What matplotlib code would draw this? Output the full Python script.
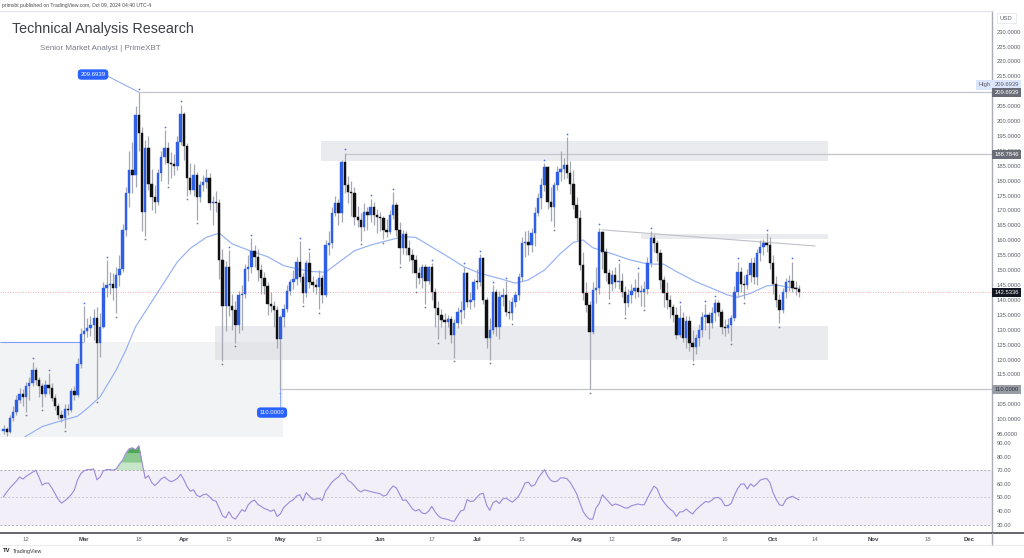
import numpy as np
import pandas as pd
import matplotlib
matplotlib.use('Agg')
import matplotlib.pyplot as plt
from matplotlib import transforms
from matplotlib.patches import Rectangle
from matplotlib.lines import Line2D

plt.rcParams['font.family'] = ['Liberation Sans', 'DejaVu Sans']

# daily candles, first bar = 2024-02-05, open of a bar = previous close
start_date = '2024-02-05'
first_open = 96.0

close = [
    # Feb
    96.8, 95.8, 100.5, 102.5, 106.5, 108.5, 107.5, 111.0, 112.0, 116.5, 113.0, 111.0, 108.5,
    111.5, 110.5, 107.0, 104.5, 101.5, 100.5, 103.5, 103.0, 109.5, 108.0, 118.5, 128.5,
    # Mar
    129.5, 130.5, 131.5, 134.0, 125.5, 131.0, 144.0, 145.0, 145.5, 144.0, 148.5, 150.5, 163.5,
    176.0, 183.5, 182.0, 202.0, 196.0, 169.5, 191.0, 179.0, 174.5, 173.0, 182.5, 188.0, 191.0,
    186.0, 185.5, 185.0, 193.0, 202.5,
    # Apr
    191.5, 181.0, 177.0, 182.0, 174.5, 178.5, 179.5, 181.0, 172.5, 173.0, 172.5, 153.5, 138.0,
    151.0, 138.0, 136.5, 131.5, 141.5, 142.0, 150.5, 151.0, 156.5, 154.5, 150.0, 147.5, 144.5,
    138.5, 138.0, 136.5, 127.0,
    # May
    134.4, 137.0, 143.0, 146.0, 147.0, 152.8, 147.8, 142.2, 152.3, 146.1, 145.0, 144.4, 147.5,
    141.6, 158.4, 159.0, 169.0, 172.4, 169.0, 186.4, 178.5, 176.3, 175.7, 167.9, 166.8, 164.6,
    169.6, 168.5, 171.0, 168.5, 167.9,
    # Jun
    167.4, 163.4, 162.9, 168.5, 171.8, 163.4, 157.3, 162.0, 157.3, 155.0, 153.4, 148.9, 147.2,
    151.1, 146.5, 151.1, 142.8, 137.2, 134.9, 133.2, 132.7, 133.5, 128.2, 132.1, 136.0, 136.5,
    148.9, 139.4, 140.0, 146.1,
    # Jul
    146.0, 154.0, 140.0, 127.1, 129.9, 142.7, 131.0, 141.0, 141.5, 136.0, 135.5, 139.4, 141.6,
    147.8, 159.0, 159.5, 158.4, 162.3, 169.0, 174.1, 178.5, 184.7, 173.0, 171.3, 178.5, 183.0,
    184.0, 185.3, 182.5, 179.0, 171.8,
    # Aug
    167.4, 151.7, 142.2, 138.3, 129.3, 143.3, 144.0, 162.9, 156.2, 149.0, 145.5, 148.5, 146.1,
    146.5, 142.8, 138.8, 141.5, 143.0, 144.0, 142.5, 142.8, 143.5, 152.3, 160.6, 159.0, 155.6,
    146.7, 142.2, 140.0, 137.7, 134.9,
    # Sep
    128.2, 134.0, 127.1, 133.0, 125.4, 124.3, 127.1, 129.9, 134.4, 134.9, 132.1, 135.5, 138.8,
    136.0, 131.0, 130.5, 131.5, 133.8, 142.8, 149.5, 145.5, 145.0, 148.3, 152.3, 147.8, 155.6,
    157.9, 159.0, 158.4, 152.3,
    # Oct
    145.5, 140.0, 136.6, 142.8, 146.1, 146.5, 143.9, 143.5, 142.5336,
]

high = [
    98.0, 97.5, 101.5, 104.5, 108.0, 110.5, 110.0, 112.5, 114.0, 119.3, 117.5, 114.0, 112.0,
    113.0, 115.4, 112.0, 108.5, 105.5, 103.0, 105.0, 105.0, 110.5, 111.0, 120.5, 130.5,
    138.0, 134.0, 134.5, 137.0, 137.5, 135.5, 146.0, 153.4, 149.5, 149.0, 151.0, 155.0, 165.5,
    178.0, 190.0, 193.0, 205.0, 209.6939, 198.0, 193.5, 195.0, 184.0, 178.5, 184.0, 190.0, 197.0,
    193.0, 189.5, 189.0, 195.0, 205.5,
    203.0, 192.5, 186.0, 185.5, 183.0, 180.0, 182.0, 184.0, 182.5, 175.0, 176.5, 174.0, 157.0,
    153.0, 156.7, 142.0, 139.5, 143.0, 145.0, 152.0, 155.0, 160.7, 158.5, 157.0, 152.0, 149.5,
    146.0, 142.5, 139.5, 138.0,
    135.0, 138.5, 145.0, 147.0, 150.0, 154.5, 159.8, 149.0, 153.5, 156.0, 148.0, 147.0, 150.0,
    148.5, 160.0, 163.0, 171.0, 175.0, 174.0, 187.0, 189.4, 181.5, 180.0, 178.0, 171.5, 169.0,
    172.5, 171.0, 174.0, 173.0, 170.5,
    169.5, 168.0, 167.0, 170.0, 176.1, 173.0, 166.0, 163.5, 163.0, 160.0, 157.0, 155.0, 151.0,
    152.0, 152.0, 151.5, 152.3, 144.0, 139.5, 137.0, 135.5, 135.0, 134.5, 133.5, 137.5, 139.5,
    151.1, 149.5, 142.5, 147.0,
    150.5, 155.4, 154.5, 141.0, 134.0, 145.0, 143.5, 143.0, 144.0, 146.3, 140.0, 141.0, 143.0,
    149.0, 161.0, 163.0, 163.5, 164.0, 171.0, 176.0, 181.0, 185.8, 185.0, 178.0, 179.5, 185.0,
    190.0, 187.5, 194.5, 186.5, 183.5,
    174.5, 170.0, 156.0, 146.0, 139.5, 146.0, 151.0, 164.2, 163.0, 157.5, 150.5, 150.0, 151.0,
    152.3, 149.0, 144.5, 143.5, 145.5, 147.0, 149.5, 145.0, 146.5, 154.5, 163.1, 162.0, 160.0,
    157.0, 148.0, 146.0, 141.5, 138.5,
    137.5, 138.3, 136.0, 134.5, 134.5, 130.0, 128.5, 132.0, 136.0, 138.6, 136.0, 137.5, 140.3,
    140.0, 137.0, 133.5, 134.0, 135.0, 144.5, 152.8, 151.0, 148.5, 150.5, 154.0, 154.5, 157.0,
    160.0, 160.5, 162.3, 161.0,
    155.0, 148.0, 142.0, 144.0, 147.5, 148.5, 152.8, 146.5, 145.0,
]

low = [
    95.0, 94.5, 95.5, 99.5, 101.5, 105.5, 104.5, 102.5, 106.5, 111.0, 111.5, 107.5, 104.2,
    107.5, 108.5, 106.0, 103.0, 100.0, 99.0, 97.0, 101.5, 102.5, 106.5, 107.5, 117.0,
    126.0, 127.5, 128.0, 126.5, 107.0, 121.0, 130.5, 141.0, 142.0, 140.0, 135.5, 144.5, 149.5,
    161.5, 171.0, 176.0, 178.0, 190.0, 163.0, 161.4, 177.0, 170.0, 169.0, 172.0, 180.0, 185.5,
    179.0, 181.0, 182.0, 183.5, 192.0,
    187.0, 175.0, 175.5, 175.0, 166.8, 173.0, 176.5, 177.5, 170.0, 165.0, 169.5, 147.0, 119.5,
    129.5, 134.5, 130.0, 125.5, 129.0, 130.0, 140.5, 146.5, 149.0, 151.0, 146.5, 142.0, 142.0,
    135.0, 136.0, 131.0, 124.0,
    110.0, 131.0, 136.0, 141.5, 143.5, 145.0, 146.0, 139.0, 141.0, 144.0, 142.5, 142.0, 136.8,
    139.0, 141.0, 155.0, 157.5, 168.0, 165.0, 166.0, 176.0, 172.5, 168.0, 165.0, 164.5, 159.9,
    163.0, 163.5, 166.0, 165.0, 162.5,
    163.0, 160.3, 161.0, 162.0, 167.0, 161.5, 152.0, 155.5, 155.0, 153.0, 149.0, 143.9, 145.5,
    144.0, 138.6, 145.5, 140.0, 131.0, 126.8, 131.0, 127.0, 131.0, 125.5, 120.6, 130.5, 132.0,
    134.0, 137.5, 137.0, 137.5,
    143.5, 144.5, 138.5, 124.0, 120.0, 128.5, 128.0, 127.0, 138.0, 134.5, 133.5, 133.2, 137.5,
    140.0, 146.5, 154.5, 155.0, 156.0, 158.0, 168.0, 170.5, 176.5, 170.5, 166.5, 164.6, 177.0,
    180.0, 180.5, 181.0, 175.5, 170.5,
    160.0, 150.0, 140.0, 136.0, 110.0, 128.5, 139.0, 142.0, 150.5, 146.5, 140.2, 143.0, 144.0,
    143.5, 141.0, 135.1, 137.5, 139.0, 140.5, 141.0, 138.0, 137.7, 142.0, 151.0, 156.0, 153.0,
    143.5, 137.5, 137.0, 134.0, 132.5,
    127.0, 127.5, 126.0, 124.0, 123.0, 119.5, 122.0, 124.5, 127.5, 130.0, 127.0, 130.5, 133.0,
    134.5, 128.5, 128.0, 129.0, 126.2, 133.0, 141.0, 142.5, 140.2, 143.5, 146.0, 145.5, 145.0,
    153.0, 155.0, 156.0, 150.5,
    142.0, 137.5, 132.1, 135.5, 140.5, 143.0, 142.5, 141.5, 141.0,
]

# swing-high / swing-low marks (bar index)
hi_marks = [9, 14, 25, 32, 42, 50, 55, 70, 77, 92, 95, 106, 114, 121, 133, 143, 148, 152,
            156, 168, 175, 185, 191, 197, 201, 210, 218, 221, 228, 237, 245]
lo_marks = [7, 12, 19, 29, 35, 44, 51, 57, 60, 68, 72, 86, 93, 98, 111, 118, 123, 128, 131,
            135, 140, 151, 158, 171, 182, 188, 193, 199, 214, 226, 230, 241]

# moving average (bar index, value)
ma_day = [3, 7, 12, 18, 23, 26, 30, 35, 38, 41, 45, 49, 54, 58, 63, 67, 71, 76, 82, 87,
          92, 96, 100, 104, 109, 114, 120, 124, 128, 132, 138, 143, 148, 154, 159, 163, 168,
          173, 177, 180, 183, 189, 194, 199, 202, 205, 209, 215, 220, 225, 228, 232, 237,
          240, 244, 247]
ma_val = [91.5, 94.3, 97.5, 99.5, 101.0, 103.6, 107.5, 116.5, 123.2, 131.0, 137.7, 144.4,
          152.8, 157.3, 161.0, 162.4, 158.8, 156.7, 154.5, 151.5, 150.2, 149.5, 149.3, 152.5,
          156.5, 158.4, 160.1, 161.2, 161.0, 158.4, 154.5, 151.1, 148.9, 147.2, 145.6, 146.7,
          150.0, 155.6, 159.3, 160.1, 157.5, 155.5, 153.6, 152.3, 152.0, 152.0, 149.5, 146.1,
          143.9, 141.6, 140.9, 142.2, 144.7, 145.0, 144.2, 143.9]

rsi = [
    50.5, 54, 57, 59.5, 62, 65, 63.5, 65.5, 67, 68.5,
    70, 65, 59, 60.5, 60.5, 57, 52.8, 48.5, 45.8, 47.5,
    49.5, 52, 55.5, 63, 67.5, 69.5, 70.5, 70.5, 71, 63,
    65, 69.5, 70.5, 70.5, 70, 71, 74.5, 77.5, 82.5, 85.7,
    86.5, 85, 88, 76, 64, 66, 61, 58.7, 61, 63.7,
    65, 63, 61.5, 62.5, 64, 67, 63, 58, 54.5, 55.7,
    51.5, 50.5, 52, 52.5, 50.5, 48, 47.2, 42, 36.5, 35,
    39.5, 35.5, 34, 37.5, 41, 39.7, 44.6, 47, 48, 44.8,
    43.5, 41.8, 41, 39.8, 41, 36, 38, 42.5, 44.7, 47,
    48.3, 51, 52, 47.5, 53.5, 51, 48.5, 48.8, 49.3, 47.8,
    54.5, 57.8, 61.2, 63.4, 65, 68, 66.5, 62.5, 61, 58.5,
    55.5, 54, 55.5, 55, 54.3, 53.7, 53.2, 52.7, 51, 51.8,
    55.7, 58.4, 57, 52.5, 47.8, 48.2, 45, 41.5, 40, 41.2,
    38.5, 38, 39.8, 43.5, 39.5, 36.5, 34.8, 34.3, 33.8, 32.8,
    32.5, 36.5, 40, 40.9, 48.5, 47, 47.3, 50, 52.5, 53,
    44.5, 40.5, 46, 47.5, 45.5, 48.8, 49.5, 48, 46.5, 48.5,
    51, 55.5, 60.7, 61.2, 58.2, 59.3, 64, 67.3, 70.3, 65.8,
    62.5, 61.5, 62, 64.4, 64.4, 63.7, 61, 57, 52.7, 46,
    39.7, 36.2, 34, 34, 42.2, 45.5, 52, 49.3, 46.5, 44,
    45.2, 44.5, 43.5, 42.2, 42.3, 43.8, 44.5, 45.2, 44.6, 44.6,
    49.5, 54, 58.3, 56.5, 50.5, 46.8, 43.8, 41.4, 39.7, 36,
    39.3, 39.5, 41.5, 39.5, 37.8, 40.8, 43, 45, 47, 46.5,
    48, 49.8, 50, 48.3, 44, 44, 45.6, 51.5, 56.5, 59.7,
    60, 56.2, 60, 58, 60, 62.7, 63.5, 64, 61, 53.5,
    48.5, 44.5, 44, 48.4, 50, 50.8, 49.5, 48.3,
]

tick_dates = ['2024-02-12', '2024-03-01', '2024-03-18', '2024-04-01', '2024-04-15',
              '2024-05-01', '2024-05-13', '2024-06-01', '2024-06-17', '2024-07-01',
              '2024-07-15', '2024-08-01', '2024-08-12', '2024-09-01', '2024-09-16',
              '2024-10-01', '2024-10-14', '2024-11-01', '2024-11-18', '2024-12-01']
tick_labels = ['12', 'Mar', '18', 'Apr', '15', 'May', '13', 'Jun', '17', 'Jul', '15', 'Aug',
               '12', 'Sep', '16', 'Oct', '14', 'Nov', '18', 'Dec']

ath_price = 209.6939
range_top = 188.7846
range_low = 110.0
last_price = 142.5336

# ---------------------------------------------------------------
n = len(close)
days = np.arange(n)
c = np.array(close)
h = np.array(high)
l = np.array(low)
o = np.array([first_open] + close[:-1])
rsi_arr = np.array(rsi, dtype=float)
t0 = pd.Timestamp(start_date)
tick_pos = [(pd.Timestamp(d) - t0).days for d in tick_dates]

X0, X1 = -1.1, 307.0

fig = plt.figure(figsize=(10.24, 5.58), dpi=100)
fig.patch.set_facecolor('white')
ax = fig.add_axes([0, 0.2168, 0.96875, 0.7634])
rx = fig.add_axes([0, 0.0448, 0.96875, 0.172], sharex=ax)

ax.set_xlim(X0, X1)
ax.set_ylim(94.0, 236.9)
rx.set_ylim(23.85, 94.4)

# zones and drawings
zone_col = '#d1d4dc'
ax.add_patch(Rectangle((X0, 94.0), 86.8 - X0, 125.9 - 94.0, color=zone_col, alpha=0.28, lw=0, zorder=0))
ax.hlines(125.9, X0, 24.7, color='#7d9ef0', lw=0.8, zorder=1)
ax.add_patch(Rectangle((98.6, 186.6), 256.1 - 98.6, 193.3 - 186.6, color=zone_col, alpha=0.45, lw=0, zorder=0))
ax.add_patch(Rectangle((65.7, 119.8), 256.1 - 65.7, 131.2 - 119.8, color=zone_col, alpha=0.45, lw=0, zorder=0))
ax.add_patch(Rectangle((198.0, 160.5), 256.1 - 198.0, 162.1 - 160.5, color=zone_col, alpha=0.45, lw=0, zorder=0))

line_col = '#c3c5cc'
ax.hlines(ath_price, 42, X1, color=line_col, lw=0.9, zorder=1)
ax.hlines(range_top, 106, X1, color=line_col, lw=0.9, zorder=1)
ax.hlines(range_low, 86, X1, color=line_col, lw=0.9, zorder=1)
ax.plot([185.9, 252.0], [163.5, 158.1], color='#bfc1c8', lw=0.8, zorder=1)
ax.axhline(last_price, color='#f23645', lw=0.6, ls=(0, (1, 2)), alpha=0.55, zorder=1)

# moving average
ax.plot(ma_day, ma_val, color='#94b0f7', lw=0.85, zorder=2)

# candles
up = c >= o
up_col, dn_col, wick_col = '#2f5fe3', '#111111', '#a5a8b0'
ax.vlines(days, l, h, color=wick_col, lw=0.9, zorder=3)
cols = np.where(up, up_col, dn_col)
ax.bar(days, np.maximum(np.abs(c - o), 0.35), bottom=np.minimum(o, c), width=0.74,
       color=cols, edgecolor=cols, lw=0.3, zorder=4)

off_up = transforms.offset_copy(ax.transData, fig=fig, x=0, y=2.4, units='points')
off_dn = transforms.offset_copy(ax.transData, fig=fig, x=0, y=-2.4, units='points')
ax.scatter(days[hi_marks], h[hi_marks], s=1.6, color='#4d74ee', lw=0, transform=off_up, zorder=5)
ax.scatter(days[lo_marks], l[lo_marks], s=1.6, color='#7a7d86', lw=0, transform=off_dn, zorder=5)

# callouts
ax.annotate(f'{ath_price:.4f}', xy=(42, ath_price), xytext=(27.8, 215.6),
            ha='center', va='center', fontsize=4.3, color='white',
            bbox=dict(boxstyle='round,pad=0.45,rounding_size=0.6', fc='#2962ff', ec='none'),
            arrowprops=dict(arrowstyle='-', color='#86a5f3', lw=0.7, shrinkA=0, shrinkB=0,
                            relpos=(1, 0.4)), zorder=6)
ax.annotate(f'{range_low:.4f}', xy=(86, range_low), xytext=(83.4, 102.2),
            ha='center', va='center', fontsize=4.3, color='white',
            bbox=dict(boxstyle='round,pad=0.45,rounding_size=0.6', fc='#2962ff', ec='none'),
            arrowprops=dict(arrowstyle='-', color='#86a5f3', lw=0.7, shrinkA=0, shrinkB=0,
                            relpos=(0.85, 1)), zorder=6)

# price axis
yt = [v for v in range(95, 231, 5) if v != 210]
ax.yaxis.tick_right()
ax.set_yticks(yt)
ax.set_yticklabels([f'{v:.4f}' for v in yt])
ax.tick_params(axis='y', length=0, pad=3.2, labelsize=4.2, labelcolor='#5d606b')
ax.tick_params(axis='x', length=0, labelbottom=False)

tr = transforms.blended_transform_factory(ax.transAxes, ax.transData)
def price_tag(y, text, fc, tc):
    ax.text(1.0025, y, text, transform=tr, fontsize=4.2, color=tc, va='center', ha='left',
            clip_on=False, zorder=10,
            bbox=dict(boxstyle='square,pad=0.35', fc=fc, ec='none'))

price_tag(212.1, f'{ath_price:.4f}', '#dbe5fb', '#5d606b')
ax.text(0.9985, 212.1, 'High', transform=tr, fontsize=4.2, color='#5d606b', va='center',
        ha='right', clip_on=False, zorder=10, bbox=dict(boxstyle='square,pad=0.35', fc='#dbe5fb', ec='none'))
price_tag(ath_price, f'{ath_price:.4f}', '#6a6d78', 'white')
price_tag(range_top, f'{range_top:.4f}', '#6a6d78', 'white')
price_tag(last_price, f'{last_price:.4f}', '#131722', 'white')
price_tag(range_low, f'{range_low:.4f}', '#9a9da6', '#2a2e39')

ax.spines['left'].set_visible(False)
ax.spines['top'].set_color('#e0e3eb')
ax.spines['bottom'].set_color('#e0e3eb')
ax.spines['right'].set_color('#a9acb4')
ax.spines['right'].set_linewidth(1.0)

# RSI panel
rx.axhspan(30, 70, color='#7e57c2', alpha=0.09, lw=0)
for lv, a in [(70, 0.9), (50, 0.55), (30, 0.9)]:
    rx.axhline(lv, color='#a3a6ae', lw=0.7, ls=(0, (2, 2)), alpha=a)
rx.fill_between(days, 70, rsi_arr, where=rsi_arr > 70, interpolate=True, color='#c6e6c8', lw=0)
rx.fill_between(days, 76, rsi_arr, where=rsi_arr > 76, interpolate=True, color='#8cc98f', lw=0)
rx.fill_between(days, 83, rsi_arr, where=rsi_arr > 83, interpolate=True, color='#4fa654', lw=0)
rx.plot(days, rsi_arr, color='#9d88da', lw=0.8)

rx.yaxis.tick_right()
rt = [30, 40, 50, 60, 70, 80, 90]
rx.set_yticks(rt)
rx.set_yticklabels([f'{v:.2f}' for v in rt])
rx.tick_params(axis='y', length=0, pad=3.2, labelsize=4.2, labelcolor='#5d606b')
rx.set_xticks(tick_pos)
rx.set_xticklabels(tick_labels)
rx.tick_params(axis='x', length=0, pad=3.0, labelsize=4.3, labelcolor='#6a6d78')
for lab in rx.get_xticklabels():
    if not lab.get_text().isdigit():
        lab.set_fontweight('bold')
        lab.set_color('#3a3d45')
rx.spines['left'].set_visible(False)
rx.spines['top'].set_visible(False)
rx.spines['bottom'].set_color('#4a4c52')
rx.spines['bottom'].set_linewidth(1.2)
rx.spines['right'].set_color('#a9acb4')
rx.spines['right'].set_linewidth(1.0)

# frame bits around the time axis
fig.add_artist(Line2D([0.96875, 1.0], [0.0448, 0.0448], color='#4a4c52', lw=1.2))
fig.add_artist(Line2D([0.96875, 0.96875], [0.0233, 0.0448], color='#a9acb4', lw=1.0))
fig.add_artist(Line2D([0, 1], [0.0233, 0.0233], color='#e6e8ee', lw=0.6))

# texts
fig.text(2 / 1024, 1 - 6 / 558, 'primxbt published on TradingView.com, Oct 09, 2024 04:40 UTC-4',
         fontsize=3.6, color='#4a4a4a', va='center', ha='left')
fig.text(12 / 1024, 1 - 29 / 558, 'Technical Analysis Research', fontsize=10.3,
         color='#3b3e45', va='center', ha='left')
fig.text(40 / 1024, 1 - 48 / 558, 'Senior Market Analyst | PrimeXBT', fontsize=5.8,
         color='#7b7e88', va='center', ha='left')
fig.text(1000 / 1024, 1 - 18 / 558, 'USD', fontsize=4.2, color='#5d606b', va='center', ha='left',
         bbox=dict(boxstyle='square,pad=0.5', fc='white', ec='#e0e3eb', lw=0.5))
fig.text(3 / 1024, 1 - 551 / 558, 'TV', fontsize=4.2, color='#222', fontweight='bold',
         va='center', ha='left')
fig.text(13 / 1024, 1 - 551 / 558, 'TradingView', fontsize=3.8, color='#333', va='center', ha='left')

fig.savefig('out.png', dpi=100, facecolor='white')
